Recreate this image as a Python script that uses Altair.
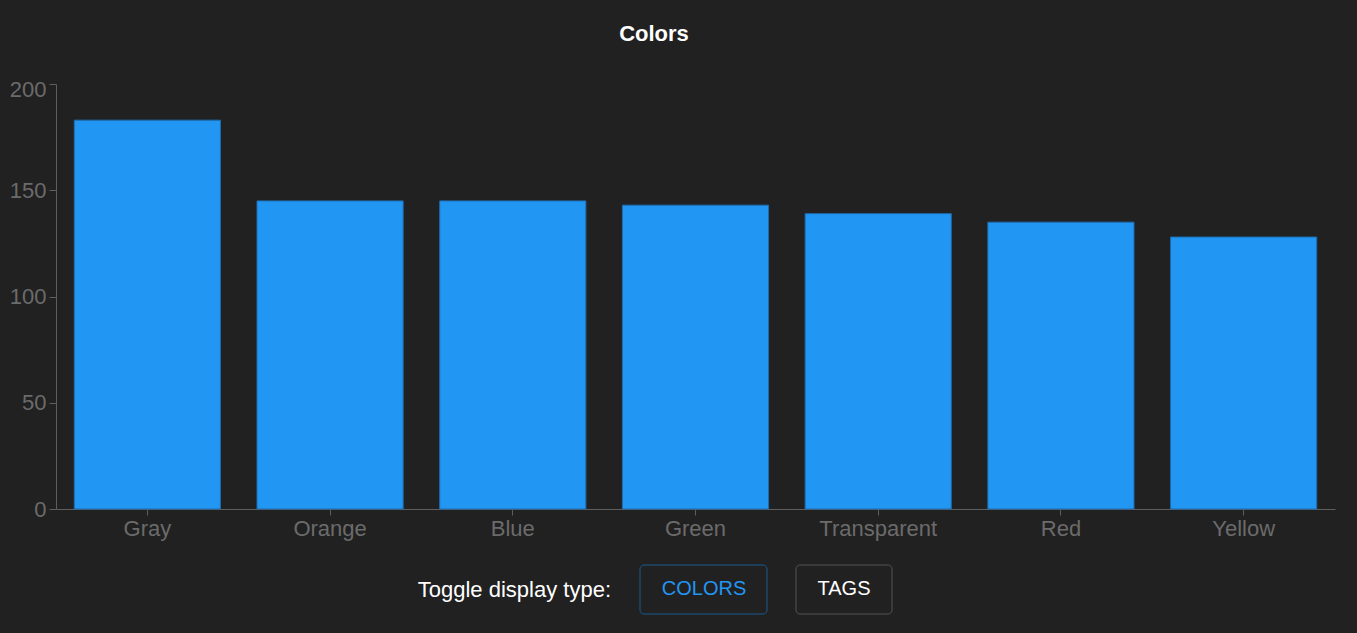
import altair as alt
import pandas as pd

categories = ["Gray", "Orange", "Blue", "Green", "Transparent", "Red", "Yellow"]
counts = [183, 145, 145, 143, 139, 135, 128]

df = pd.DataFrame({"color": categories, "count": counts})
one = pd.DataFrame({"k": [0]})

FONT = "Liberation Sans"

bars = alt.Chart(df).mark_bar(
    color="#2196f3", stroke="#1f6bab", strokeWidth=1
).encode(
    x=alt.X("color:N", sort=categories, title=None,
            scale=alt.Scale(paddingInner=0.2, paddingOuter=0.1),
            axis=alt.Axis(labelAngle=0, labelFontSize=22, labelColor="#6b6b6b",
                          labelFont=FONT, domainColor="#5e5e5e", tickColor="#5e5e5e",
                          tickSize=6, labelPadding=3)),
    y=alt.Y("count:Q", title=None,
            scale=alt.Scale(domain=[0, 200]),
            axis=alt.Axis(values=[0, 50, 100, 150, 200], grid=False,
                          labelFontSize=22, labelColor="#6b6b6b", labelFont=FONT,
                          domainColor="#5e5e5e", tickColor="#5e5e5e", tickSize=7,
                          labelPadding=3,
                          labelOffset=alt.condition("datum.value == 200",
                                                    alt.value(5), alt.value(0)))),
)

title = alt.Chart(one).mark_text(
    text="Colors", font=FONT, fontSize=22, fontWeight="bold", color="#ffffff",
    align="center", baseline="middle"
).encode(x=alt.value(598), y=alt.value(-50))

toggle = alt.Chart(one).mark_text(
    text="Toggle display type:", font=FONT, fontSize=22, color="#ffffff",
    align="right", baseline="middle"
).encode(x=alt.value(555), y=alt.value(506))

btn1 = alt.Chart(one).mark_rect(
    fill="#212121", stroke="#1d5b92", strokeWidth=1, cornerRadius=4
).encode(x=alt.value(584), x2=alt.value(711), y=alt.value(481), y2=alt.value(530))

btn1_text = alt.Chart(one).mark_text(
    text="COLORS", font=FONT, fontSize=20, color="#2196f3",
    align="center", baseline="middle"
).encode(x=alt.value(648), y=alt.value(505))

btn2 = alt.Chart(one).mark_rect(
    fill="#212121", stroke="#555555", strokeWidth=1, cornerRadius=4
).encode(x=alt.value(740), x2=alt.value(836), y=alt.value(481), y2=alt.value(530))

btn2_text = alt.Chart(one).mark_text(
    text="TAGS", font=FONT, fontSize=20, color="#ffffff",
    align="center", baseline="middle"
).encode(x=alt.value(788), y=alt.value(505))

chart = alt.layer(bars, title, toggle, btn1, btn1_text, btn2, btn2_text).properties(
    width=1279, height=425,
    background="#212121",
    padding={"left": 56, "top": 84, "right": 22, "bottom": 124},
    autosize=alt.AutoSizeParams(type="none"),
).configure_view(stroke=None)

chart.save("out.html", embed_options={"renderer": "svg", "actions": False})
